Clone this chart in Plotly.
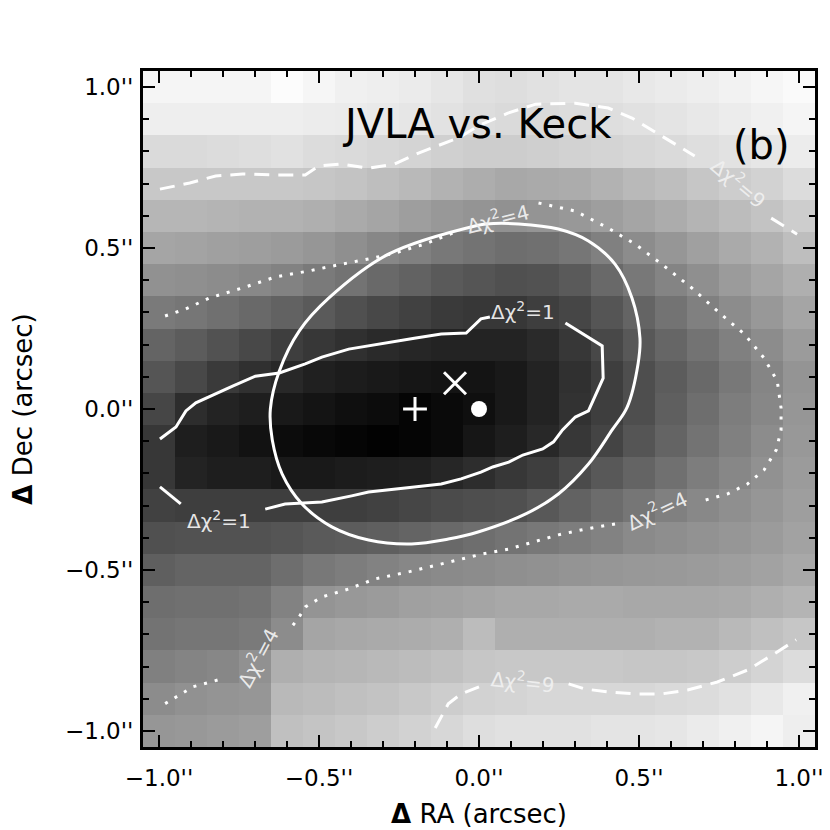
import plotly.graph_objects as go

# ---------------- data ----------------
ra_offsets = [-1.0, -0.9, -0.8, -0.7, -0.6, -0.5, -0.4, -0.3, -0.2, -0.1, 0.0,
              0.1, 0.2, 0.3, 0.4, 0.5, 0.6, 0.7, 0.8, 0.9, 1.0]
dec_offsets_top_down = [1.0, 0.9, 0.8, 0.7, 0.6, 0.5, 0.4, 0.3, 0.2, 0.1, 0.0,
                        -0.1, -0.2, -0.3, -0.4, -0.5, -0.6, -0.7, -0.8, -0.9, -1.0]

# grey level of each map cell (0 = black, 255 = white), rows from Dec=+1.0 down to Dec=-1.0
grey_map = [
    [245, 245, 245, 245, 252, 246, 240, 238, 235, 230, 224, 222, 225, 228, 228, 232, 235, 238, 242, 246, 250],
    [238, 238, 238, 238, 238, 236, 235, 233, 230, 226, 221, 218, 218, 220, 222, 225, 228, 232, 236, 240, 245],
    [218, 218, 220, 222, 225, 220, 218, 215, 212, 208, 205, 205, 207, 210, 212, 215, 218, 222, 226, 230, 236],
    [200, 200, 200, 200, 200, 198, 195, 190, 185, 178, 173, 168, 170, 172, 178, 185, 190, 198, 205, 210, 220],
    [182, 182, 180, 178, 178, 175, 170, 165, 158, 152, 148, 145, 148, 152, 158, 165, 172, 180, 188, 195, 205],
    [165, 163, 160, 158, 155, 150, 143, 135, 128, 120, 115, 110, 112, 118, 128, 140, 150, 160, 170, 178, 190],
    [145, 143, 140, 136, 130, 122, 115, 105, 98, 90, 85, 80, 82, 90, 105, 120, 132, 143, 155, 165, 175],
    [122, 118, 112, 105, 98, 90, 80, 72, 65, 58, 55, 55, 62, 70, 85, 100, 115, 128, 140, 152, 165],
    [100, 92, 82, 72, 62, 55, 48, 42, 38, 35, 35, 35, 42, 55, 72, 88, 102, 115, 128, 140, 155],
    [85, 72, 58, 48, 40, 32, 28, 25, 22, 20, 20, 25, 35, 48, 62, 78, 92, 105, 120, 133, 148],
    [70, 45, 35, 30, 25, 20, 15, 12, 5, 10, 15, 25, 35, 50, 62, 78, 95, 110, 125, 135, 150],
    [55, 30, 25, 18, 12, 8, 5, 2, 5, 10, 22, 30, 40, 55, 68, 85, 100, 115, 128, 140, 152],
    [55, 35, 30, 30, 25, 25, 28, 30, 32, 38, 45, 55, 62, 75, 88, 100, 112, 125, 135, 145, 155],
    [65, 62, 62, 62, 62, 62, 62, 65, 70, 75, 78, 80, 88, 98, 108, 118, 128, 136, 143, 150, 158],
    [80, 82, 82, 82, 85, 90, 92, 95, 100, 105, 110, 115, 120, 125, 130, 138, 142, 146, 150, 155, 162],
    [95, 100, 100, 100, 110, 120, 125, 130, 135, 138, 140, 143, 145, 148, 150, 152, 153, 155, 158, 162, 168],
    [110, 112, 112, 115, 130, 148, 152, 155, 160, 162, 165, 168, 168, 170, 170, 168, 168, 168, 170, 175, 180],
    [115, 118, 118, 122, 140, 165, 168, 170, 172, 175, 188, 175, 175, 175, 175, 175, 178, 178, 185, 192, 198],
    [128, 132, 135, 145, 175, 180, 182, 185, 188, 192, 198, 200, 200, 200, 200, 198, 198, 200, 205, 212, 220],
    [140, 145, 148, 150, 185, 188, 192, 195, 200, 205, 210, 212, 215, 215, 215, 215, 218, 220, 225, 232, 240],
    [150, 152, 155, 158, 192, 196, 200, 205, 210, 215, 222, 225, 225, 225, 228, 228, 230, 235, 240, 245, 238],
]

# Delta chi^2 = 1 contour (None = label gap)
chi1_x = [0.034, 0.006, -0.040, -0.118, -0.202, -0.304, -0.407, -0.491, -0.543, -0.624, -0.699,
          -0.770, -0.885, -0.916, -0.947, -0.997, None,
          0.270, 0.385, 0.388, 0.342, 0.301, 0.261, 0.233, 0.199, 0.137, 0.093, 0.043, 0.006,
          -0.056, -0.118, -0.202, -0.283, -0.345, -0.398, -0.491, -0.606, -0.668, None,
          -0.997, -0.932]
chi1_y = [0.286, 0.280, 0.236, 0.233, 0.220, 0.202, 0.186, 0.161, 0.140, 0.112, 0.102,
          0.071, 0.019, -0.006, -0.056, -0.093, None,
          0.267, 0.196, 0.096, -0.006, -0.025, -0.065, -0.102, -0.124, -0.143, -0.165, -0.180, -0.196,
          -0.217, -0.233, -0.242, -0.252, -0.258, -0.270, -0.289, -0.295, -0.311, None,
          -0.242, -0.295]

# Delta chi^2 = 4 contour
chi4_x = [-0.981, -0.916, -0.842, -0.739, -0.637, -0.531, -0.429, -0.345, -0.264, -0.171, -0.065, None,
          0.186, 0.301, 0.404, 0.488, 0.571, 0.665, 0.745, 0.829, 0.891, 0.932, 0.944, 0.944,
          0.929, 0.891, 0.839, 0.776, 0.696, None,
          0.425, 0.332, 0.248, 0.168, 0.093, 0.012, -0.118, -0.220, -0.326, -0.407, -0.491,
          -0.543, -0.562, -0.590, None,
          -0.817, -0.894, -0.997]
chi4_y = [0.289, 0.311, 0.345, 0.376, 0.410, 0.429, 0.450, 0.466, 0.484, 0.512, 0.553, None,
          0.640, 0.615, 0.562, 0.512, 0.450, 0.376, 0.304, 0.233, 0.158, 0.087, 0.003, -0.065,
          -0.127, -0.189, -0.233, -0.264, -0.286, None,
          -0.357, -0.373, -0.391, -0.413, -0.435, -0.450, -0.481, -0.506, -0.528, -0.559, -0.584,
          -0.615, -0.646, -0.683, None,
          -0.842, -0.863, -0.925]

# Delta chi^2 = 9 contour
chi9_x = [-0.997, -0.904, -0.823, -0.739, -0.637, -0.543, -0.500, -0.429, -0.345, -0.264, -0.189,
          -0.065, 0.003, 0.090, 0.177, 0.301, 0.404, 0.478, 0.571, 0.674, None,
          0.913, 0.994, None,
          0.280, 0.332, 0.404, 0.488, 0.571, 0.652, 0.745, 0.839, 0.922, 0.991, None,
          0.0, -0.056, -0.096, -0.118, -0.140]
chi9_y = [0.683, 0.702, 0.724, 0.730, 0.727, 0.727, 0.755, 0.761, 0.748, 0.761, 0.795,
          0.842, 0.882, 0.919, 0.947, 0.950, 0.935, 0.904, 0.848, 0.786, None,
          0.593, 0.543, None,
          -0.854, -0.870, -0.879, -0.885, -0.885, -0.873, -0.848, -0.811, -0.761, -0.717, None,
          -0.863, -0.885, -0.916, -0.957, -0.997]

# error ellipse
ellipse_x = [-0.003, -0.283, -0.469, -0.562, -0.624, -0.652, -0.646, -0.615, -0.553, -0.460, -0.345,
             -0.211, -0.096, -0.003, 0.146, 0.248, 0.342, 0.416, 0.463, 0.497, 0.503, 0.478,
             0.425, 0.342, 0.248, 0.124, 0.022, -0.003]
ellipse_y = [0.571, 0.481, 0.345, 0.242, 0.118, 0.0, -0.096, -0.202, -0.295, -0.366, -0.407,
             -0.419, -0.404, -0.382, -0.326, -0.264, -0.171, -0.065, 0.006, 0.140, 0.220, 0.345,
             0.450, 0.522, 0.559, 0.575, 0.575, 0.571]

# positions
plus_pos = (-0.2, 0.0)
cross_pos = (-0.075, 0.08)
dot_pos = (0.0, 0.0)

# contour labels
label_x = [0.137, -0.814, 0.059, 0.556, -0.693, 0.814, 0.137]
label_y = [0.304, -0.345, 0.593, -0.314, -0.770, 0.702, -0.845]
label_text = ["Δχ<sup>2</sup>=1", "Δχ<sup>2</sup>=1", "Δχ<sup>2</sup>=4", "Δχ<sup>2</sup>=4",
              "Δχ<sup>2</sup>=4", "Δχ<sup>2</sup>=9", "Δχ<sup>2</sup>=9"]
label_angle = [0, 0, -14, -25, -62, 40, 6]

tick_vals = [-1.0, -0.5, 0.0, 0.5, 1.0]
tick_text = ["−1.0''", "−0.5''", "0.0''", "0.5''", "1.0''"]

# ---------------- figure ----------------
fig = go.Figure()

fig.add_trace(go.Heatmap(
    x=ra_offsets,
    y=dec_offsets_top_down[::-1],
    z=grey_map[::-1],
    colorscale=[[0, "rgb(0,0,0)"], [1, "rgb(255,255,255)"]],
    zmin=0, zmax=255, showscale=False, hoverinfo="skip",
))

line_w = 3
fig.add_trace(go.Scatter(x=chi9_x, y=chi9_y, mode="lines",
                         line=dict(color="white", width=line_w, dash="15px,9px"),
                         connectgaps=False, hoverinfo="skip"))
fig.add_trace(go.Scatter(x=chi4_x, y=chi4_y, mode="lines",
                         line=dict(color="white", width=line_w, dash="3px,8px"),
                         connectgaps=False, hoverinfo="skip"))
fig.add_trace(go.Scatter(x=chi1_x, y=chi1_y, mode="lines",
                         line=dict(color="white", width=line_w),
                         connectgaps=False, hoverinfo="skip"))
fig.add_trace(go.Scatter(x=ellipse_x, y=ellipse_y, mode="lines",
                         line=dict(color="white", width=line_w, shape="spline", smoothing=1.0),
                         hoverinfo="skip"))

fig.add_trace(go.Scatter(x=[plus_pos[0]], y=[plus_pos[1]], mode="markers",
                         marker=dict(symbol="cross-thin", size=17, line=dict(color="white", width=3)),
                         hoverinfo="skip"))
fig.add_trace(go.Scatter(x=[cross_pos[0]], y=[cross_pos[1]], mode="markers",
                         marker=dict(symbol="x-thin", size=22, line=dict(color="white", width=3)),
                         hoverinfo="skip"))
fig.add_trace(go.Scatter(x=[dot_pos[0]], y=[dot_pos[1]], mode="markers",
                         marker=dict(symbol="circle", size=16, color="white"),
                         hoverinfo="skip"))

annotations = []
for lx, ly, lt, la in zip(label_x, label_y, label_text, label_angle):
    annotations.append(dict(x=lx, y=ly, xref="x", yref="y", text=lt, textangle=la,
                            showarrow=False, font=dict(family="DejaVu Sans", size=20,
                                                       color="rgba(240,240,240,0.95)")))
annotations.append(dict(x=-0.007, y=0.885, xref="x", yref="y", text="JVLA vs. Keck",
                        showarrow=False, font=dict(family="DejaVu Sans", size=40, color="black")))
annotations.append(dict(x=0.882, y=0.82, xref="x", yref="y", text="(b)",
                        showarrow=False, font=dict(family="DejaVu Sans", size=40, color="black")))
fig.update_layout(annotations=annotations)

axis_common = dict(
    range=[-1.05, 1.05], tickvals=tick_vals, ticktext=tick_text,
    ticks="inside", ticklen=12, tickwidth=2, tickcolor="black",
    minor=dict(ticks="inside", ticklen=6, tickwidth=2, dtick=0.1, tick0=0, tickcolor="black"),
    showline=True, linewidth=3, linecolor="black", mirror="ticks",
    showgrid=False, zeroline=False, automargin=False,
    tickfont=dict(family="DejaVu Sans", size=23, color="black"),
)

fig.update_xaxes(**axis_common, ticklabelstandoff=8,
                 title=dict(text="<b>Δ</b> RA (arcsec)", standoff=16,
                            font=dict(family="DejaVu Sans", size=26, color="black")))
fig.update_yaxes(**axis_common, ticklabelstandoff=2,
                 title=dict(text="<b>Δ</b> Dec (arcsec)", standoff=38,
                            font=dict(family="DejaVu Sans", size=26, color="black")))

# page body has an 8px default margin, so the figure is 822px and margins are shifted by 8px
fig.update_layout(
    width=822, height=822,
    margin=dict(l=135, r=15, t=63, b=83, autoexpand=False),
    paper_bgcolor="white", plot_bgcolor="white",
    showlegend=False,
)

fig.write_html("out.html")
